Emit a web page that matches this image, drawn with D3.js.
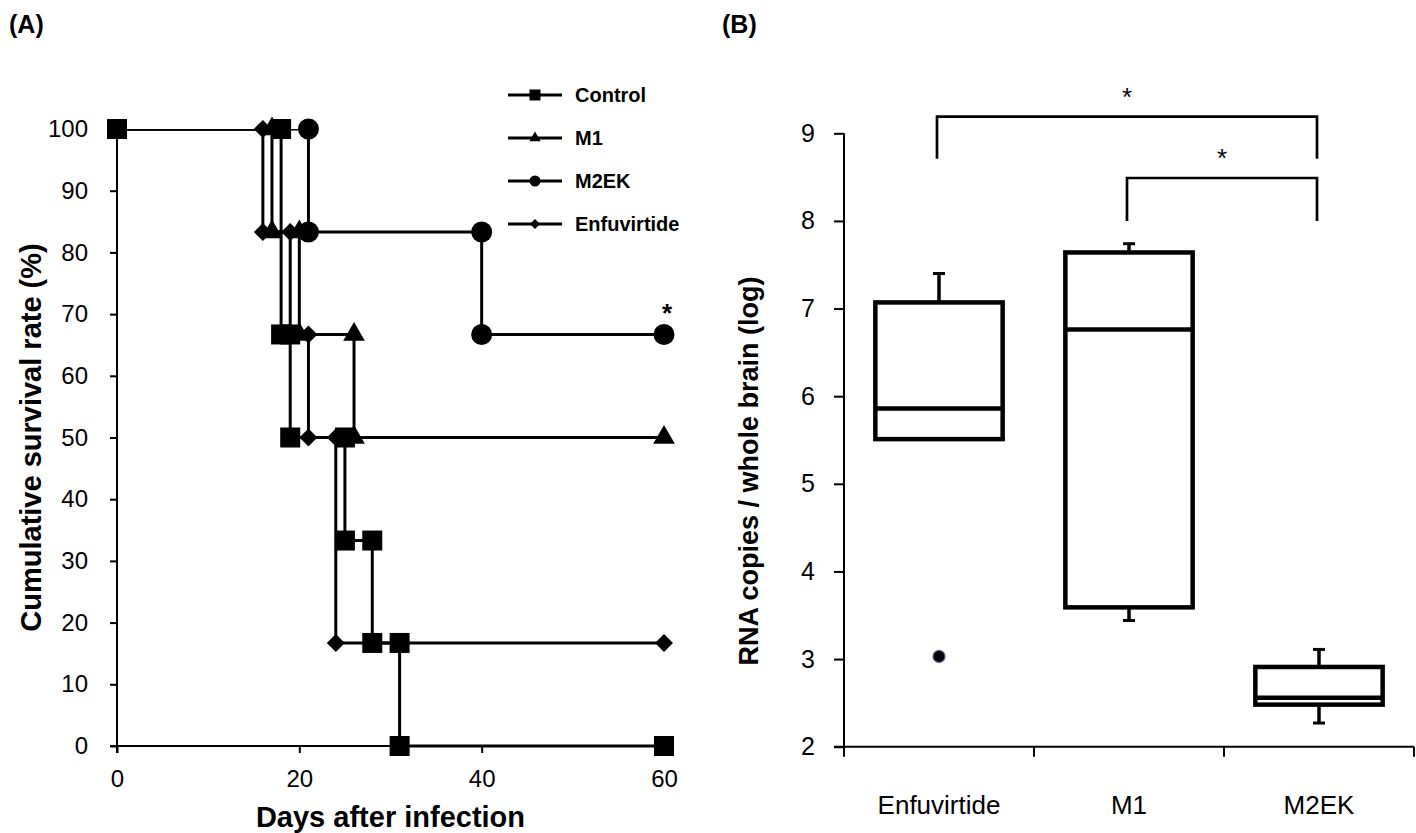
<!DOCTYPE html>
<html lang="en">
<head>
<meta charset="UTF-8">
<title>Survival and brain RNA</title>
<script src="https://d3js.org/d3.v7.min.js"></script>
<style>
  body { margin: 0; background: #fff; }
  svg { display: block; font-family: Arial, "Liberation Sans", sans-serif; }
</style>
</head>
<body>
<svg width="1416" height="833"></svg>
<script>
// ---- panel A data: Kaplan-Meier style steps (day, % surviving) ----
const seriesNames = ["Control", "M1", "M2EK", "Enfuvirtide"];
const controlDays = [0, 18, 18, 19, 19, 25, 25, 28, 28, 31, 31, 60];
const controlSurv = [100, 100, 66.7, 66.7, 50, 50, 33.3, 33.3, 16.7, 16.7, 0, 0];
const m1Days = [0, 17, 17, 20, 20, 26, 26, 60];
const m1Surv = [100, 100, 83.3, 83.3, 66.7, 66.7, 50, 50];
const m2ekDays = [0, 21, 21, 40, 40, 60];
const m2ekSurv = [100, 100, 83.3, 83.3, 66.7, 66.7];
const enfuDays = [0, 16, 16, 19, 19, 21, 21, 24, 24, 60];
const enfuSurv = [100, 100, 83.3, 83.3, 66.7, 66.7, 50, 50, 16.7, 16.7];
const survTicks = [0, 10, 20, 30, 40, 50, 60, 70, 80, 90, 100];
const dayTicks = [0, 20, 40, 60];

// ---- panel B data: box plot of log RNA copies ----
const boxGroups = ["Enfuvirtide", "M1", "M2EK"];
const boxQ1 = [5.51, 3.59, 2.48];
const boxMedian = [5.86, 6.76, 2.56];
const boxQ3 = [7.07, 7.64, 2.91];
const whiskerLow = [null, 3.44, 2.27];
const whiskerHigh = [7.40, 7.74, 3.11];
const outlierGroups = ["Enfuvirtide"];
const outlierValues = [3.03];
const rnaTicks = [2, 3, 4, 5, 6, 7, 8, 9];
const sigFrom = ["Enfuvirtide", "M1"];
const sigTo = ["M2EK", "M2EK"];
const sigTop = [9.19, 8.49];
const sigLegEnd = [8.71, 8.0];

const svg = d3.select("svg");

// ================= Panel A =================
const xA = d3.scaleLinear().domain([0, 60]).range([117, 664]);
const yA = d3.scaleLinear().domain([0, 100]).range([746, 129]);

svg.append("text").attr("x", 9).attr("y", 33)
  .attr("font-size", 25).attr("font-weight", "bold").text("(A)");

svg.append("defs").append("clipPath").attr("id", "clipA")
  .append("rect").attr("x", 0).attr("y", yA(100)).attr("width", 720).attr("height", 700);

const gyA = svg.append("g").attr("transform", `translate(${xA(0)},0)`)
  .call(d3.axisLeft(yA).tickValues(survTicks).tickSize(7).tickPadding(22));
gyA.select(".domain").remove();
gyA.selectAll("line").attr("stroke", "#000").attr("stroke-width", 2);
gyA.selectAll("text").attr("font-size", 24).attr("font-family", null).attr("fill", "#000");

const gxA = svg.append("g").attr("transform", `translate(0,${yA(0)})`)
  .call(d3.axisBottom(xA).tickValues(dayTicks).tickSize(7).tickPadding(17));
gxA.select(".domain").remove();
gxA.selectAll("line").attr("stroke", "#000").attr("stroke-width", 2);
gxA.selectAll("text").attr("font-size", 24).attr("font-family", null).attr("fill", "#000");

svg.append("line").attr("x1", xA(0)).attr("x2", xA(0)).attr("y1", yA(100)).attr("y2", yA(0) + 7)
  .attr("stroke", "#000").attr("stroke-width", 2);
svg.append("line").attr("x1", xA(0) - 7).attr("x2", xA(60) + 8).attr("y1", yA(0)).attr("y2", yA(0))
  .attr("stroke", "#000").attr("stroke-width", 2);

svg.append("text").attr("x", xA(30)).attr("y", 827).attr("text-anchor", "middle")
  .attr("font-size", 29).attr("font-weight", "bold").text("Days after infection");
svg.append("text").attr("transform", `translate(41,${yA(50)}) rotate(-90)`)
  .attr("text-anchor", "middle").attr("font-size", 29).attr("font-weight", "bold")
  .text("Cumulative survival rate (%)");

const diamond = s => {
  const h = s / 2;
  return `M0,${-h}L${h},0L0,${h}L${-h},0Z`;
};
const markerPath = {
  "Control": s => d3.symbol(d3.symbolSquare, s * s)(),
  "M1": s => d3.symbol(d3.symbolTriangle, s * s * 0.46)(),
  "M2EK": s => d3.symbol(d3.symbolCircle, Math.PI * s * s / 4)(),
  "Enfuvirtide": s => diamond(s * 0.9)
};
const markerSize = { "Control": 20, "M1": 21, "M2EK": 21, "Enfuvirtide": 20 };

const seriesData = {
  "Control": d3.zip(controlDays, controlSurv),
  "M1": d3.zip(m1Days, m1Surv),
  "M2EK": d3.zip(m2ekDays, m2ekSurv),
  "Enfuvirtide": d3.zip(enfuDays, enfuSurv)
};
const drawOrder = ["Enfuvirtide", "M1", "M2EK", "Control"];
const lineA = d3.line().x(d => xA(d[0])).y(d => yA(d[1]));

drawOrder.forEach(name => {
  const pts = seriesData[name];
  svg.append("path").datum(pts).attr("d", lineA).attr("fill", "none")
    .attr("stroke", "#000").attr("stroke-width", 3).attr("clip-path", "url(#clipA)");
  svg.append("g").selectAll("path").data(pts.filter((d, i) => i > 0 || name === "Control"))
    .join("path")
    .attr("transform", d => `translate(${xA(d[0])},${yA(d[1])})`)
    .attr("d", markerPath[name](markerSize[name]))
    .attr("fill", "#000");
});

svg.append("text").attr("x", xA(60) + 3).attr("y", yA(66.7) - 12).attr("text-anchor", "middle")
  .attr("font-size", 26).attr("font-weight", "bold").text("*");

// legend
const legend = svg.append("g");
seriesNames.forEach((name, i) => {
  const y = 95 + i * 43;
  legend.append("line").attr("x1", 508).attr("x2", 562).attr("y1", y).attr("y2", y)
    .attr("stroke", "#000").attr("stroke-width", 3);
  legend.append("path").attr("transform", `translate(535,${y})`)
    .attr("d", markerPath[name](11)).attr("fill", "#000");
  legend.append("text").attr("x", 575).attr("y", y).attr("dy", "0.36em")
    .attr("font-size", 20).attr("font-weight", "bold").text(name);
});

// ================= Panel B =================
const xB = d3.scaleBand().domain(boxGroups).range([844, 1414]);
const yB = d3.scaleLinear().domain([2, 9]).range([746.7, 133.3]);
const boxW = xB.bandwidth() * 0.67;
const cx = g => xB(g) + xB.bandwidth() / 2;

svg.append("text").attr("x", 722).attr("y", 33)
  .attr("font-size", 25).attr("font-weight", "bold").text("(B)");

const gyB = svg.append("g").attr("transform", `translate(${xB.range()[0]},0)`)
  .call(d3.axisLeft(yB).tickValues(rnaTicks).tickFormat(d3.format("d")).tickSize(10).tickPadding(19));
gyB.select(".domain").remove();
gyB.selectAll("line").attr("stroke", "#000").attr("stroke-width", 2);
gyB.selectAll("text").attr("font-size", 25).attr("font-family", null).attr("fill", "#000");

svg.append("line").attr("x1", xB.range()[0]).attr("x2", xB.range()[0])
  .attr("y1", yB(9)).attr("y2", yB(2) + 10).attr("stroke", "#000").attr("stroke-width", 2);
svg.append("line").attr("x1", xB.range()[0] - 10).attr("x2", xB.range()[1])
  .attr("y1", yB(2)).attr("y2", yB(2)).attr("stroke", "#000").attr("stroke-width", 2);
const bounds = boxGroups.map(g => xB(g)).concat([xB.range()[1]]);
svg.append("g").selectAll("line").data(bounds.slice(1)).join("line")
  .attr("x1", d => d).attr("x2", d => d).attr("y1", yB(2)).attr("y2", yB(2) + 10)
  .attr("stroke", "#000").attr("stroke-width", 2);

boxGroups.forEach(g => {
  svg.append("text").attr("x", cx(g)).attr("y", 814)
    .attr("text-anchor", "middle").attr("font-size", 26).text(g);
});

svg.append("text").attr("transform", `translate(758,471) rotate(-90)`)
  .attr("text-anchor", "middle").attr("font-size", 27).attr("font-weight", "bold")
  .text("RNA copies / whole brain (log)");

const capW = 12;
boxGroups.forEach((g, i) => {
  const c = cx(g);
  const grp = svg.append("g").attr("stroke", "#000").attr("fill", "none");
  grp.append("line").attr("x1", c).attr("x2", c)
    .attr("y1", yB(boxQ3[i])).attr("y2", yB(whiskerHigh[i])).attr("stroke-width", 3.5);
  grp.append("line").attr("x1", c - capW / 2).attr("x2", c + capW / 2)
    .attr("y1", yB(whiskerHigh[i])).attr("y2", yB(whiskerHigh[i])).attr("stroke-width", 3);
  if (whiskerLow[i] !== null) {
    grp.append("line").attr("x1", c).attr("x2", c)
      .attr("y1", yB(boxQ1[i])).attr("y2", yB(whiskerLow[i])).attr("stroke-width", 3.5);
    grp.append("line").attr("x1", c - capW / 2).attr("x2", c + capW / 2)
      .attr("y1", yB(whiskerLow[i])).attr("y2", yB(whiskerLow[i])).attr("stroke-width", 3);
  }
  grp.append("rect").attr("x", c - boxW / 2).attr("width", boxW)
    .attr("y", yB(boxQ3[i])).attr("height", yB(boxQ1[i]) - yB(boxQ3[i]))
    .attr("fill", "#fff").attr("stroke-width", 4.5);
  grp.append("line").attr("x1", c - boxW / 2).attr("x2", c + boxW / 2)
    .attr("y1", yB(boxMedian[i])).attr("y2", yB(boxMedian[i])).attr("stroke-width", 4.5);
});

svg.append("g").selectAll("circle").data(d3.zip(outlierGroups, outlierValues)).join("circle")
  .attr("cx", d => cx(d[0])).attr("cy", d => yB(d[1])).attr("r", 6)
  .attr("fill", "#000").attr("stroke", "#6b5b95").attr("stroke-width", 1.2);

sigFrom.forEach((g, i) => {
  const x1 = cx(g) - 2, x2 = cx(sigTo[i]) - 2;
  svg.append("path")
    .attr("d", `M${x1},${yB(sigLegEnd[i])}V${yB(sigTop[i])}H${x2}V${yB(sigLegEnd[i])}`)
    .attr("fill", "none").attr("stroke", "#000").attr("stroke-width", 2.7);
  svg.append("text").attr("x", (x1 + x2) / 2).attr("y", yB(sigTop[i]) - 11)
    .attr("text-anchor", "middle").attr("font-size", 26).text("*");
});
</script>
</body>
</html>
